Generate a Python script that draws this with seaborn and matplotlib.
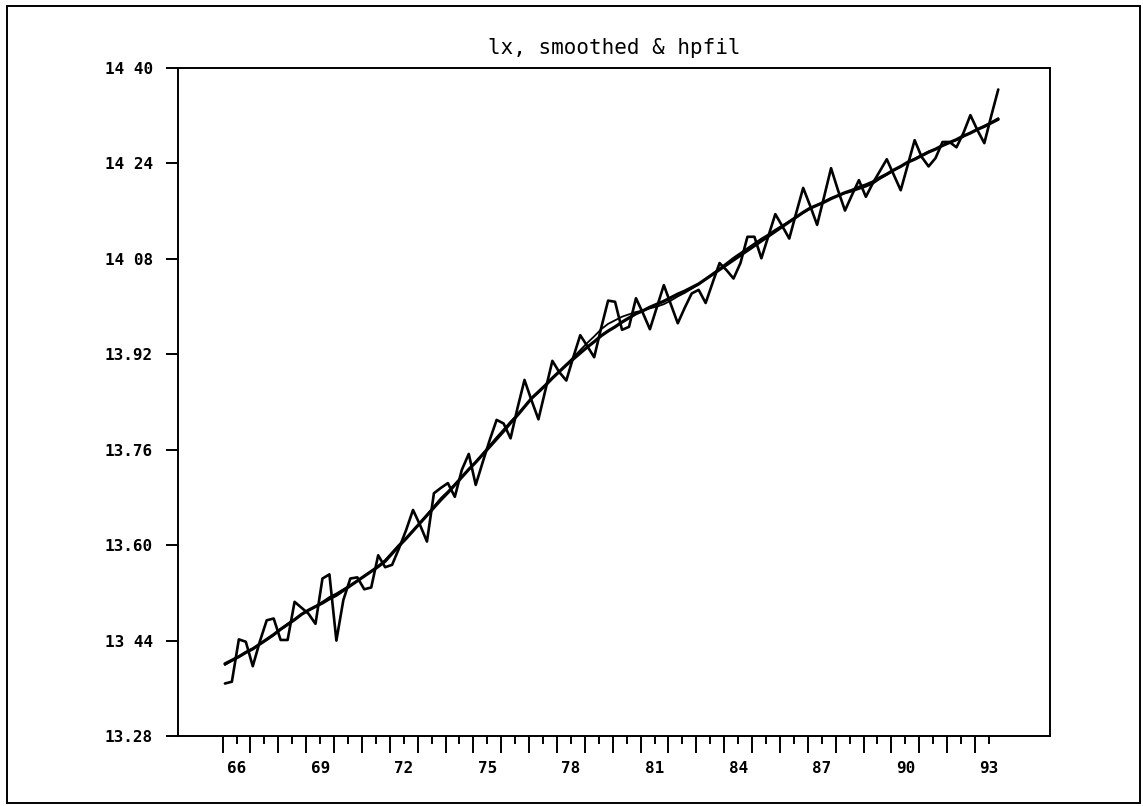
import numpy as np
import pandas as pd
import matplotlib
matplotlib.use("Agg")
import matplotlib.pyplot as plt
from matplotlib.patches import Rectangle
import seaborn as sns

# ---- data (quarterly, 1966Q1 .. 1993Q4) ----
start_year = 1966
n_quarters = 112

lx = [13.368, 13.371, 13.442, 13.438, 13.397, 13.438, 13.474, 13.477,
      13.441, 13.441, 13.505, 13.495, 13.485, 13.468, 13.544, 13.551,
      13.440, 13.508, 13.544, 13.546, 13.526, 13.529, 13.583, 13.563,
      13.567, 13.595, 13.625, 13.659, 13.634, 13.606, 13.687, 13.696,
      13.704, 13.681, 13.726, 13.753, 13.701, 13.739, 13.776, 13.810,
      13.804, 13.779, 13.830, 13.877, 13.843, 13.811, 13.860, 13.909,
      13.890, 13.876, 13.915, 13.952, 13.934, 13.915, 13.964, 14.010,
      14.008, 13.961, 13.966, 14.014, 13.989, 13.962, 13.999, 14.036,
      14.004, 13.972, 13.998, 14.022, 14.028, 14.006, 14.040, 14.073,
      14.061, 14.047, 14.073, 14.117, 14.117, 14.081, 14.118, 14.155,
      14.135, 14.114, 14.157, 14.199, 14.169, 14.137, 14.184, 14.232,
      14.195, 14.161, 14.187, 14.212, 14.184, 14.207, 14.227, 14.247,
      14.221, 14.195, 14.237, 14.279, 14.251, 14.235, 14.249, 14.276,
      14.276, 14.267, 14.291, 14.321, 14.296, 14.274, 14.320, 14.364]

smoothed = [13.399, 13.406, 13.413, 13.421, 13.427, 13.434, 13.441, 13.449,
            13.459, 13.468, 13.476, 13.484, 13.491, 13.497, 13.505, 13.513,
            13.519, 13.526, 13.533, 13.540, 13.548, 13.556, 13.565, 13.575,
            13.588, 13.601, 13.612, 13.624, 13.637, 13.651, 13.665, 13.679,
            13.690, 13.702, 13.714, 13.727, 13.739, 13.753, 13.767, 13.781,
            13.794, 13.807, 13.819, 13.832, 13.846, 13.856, 13.867, 13.880,
            13.891, 13.903, 13.915, 13.927, 13.939, 13.950, 13.962, 13.971,
            13.977, 13.983, 13.987, 13.991, 13.993, 13.997, 14.000, 14.004,
            14.010, 14.017, 14.023, 14.030, 14.037, 14.046, 14.055, 14.064,
            14.073, 14.082, 14.090, 14.098, 14.106, 14.114, 14.121, 14.129,
            14.136, 14.143, 14.150, 14.157, 14.164, 14.170, 14.176, 14.182,
            14.186, 14.190, 14.193, 14.197, 14.201, 14.206, 14.214, 14.221,
            14.228, 14.235, 14.242, 14.248, 14.254, 14.260, 14.264, 14.270,
            14.275, 14.279, 14.285, 14.291, 14.297, 14.303, 14.309, 14.316]

hpfil = [13.401, 13.407, 13.413, 13.420, 13.426, 13.434, 13.442, 13.450,
         13.459, 13.467, 13.475, 13.484, 13.491, 13.497, 13.503, 13.510,
         13.516, 13.524, 13.532, 13.540, 13.548, 13.556, 13.564, 13.573,
         13.586, 13.599, 13.611, 13.624, 13.637, 13.650, 13.663, 13.676,
         13.688, 13.701, 13.714, 13.727, 13.739, 13.752, 13.765, 13.778,
         13.791, 13.805, 13.818, 13.832, 13.846, 13.857, 13.868, 13.880,
         13.891, 13.902, 13.912, 13.922, 13.932, 13.941, 13.951, 13.959,
         13.966, 13.974, 13.981, 13.988, 13.993, 13.999, 14.004, 14.009,
         14.015, 14.021, 14.026, 14.032, 14.038, 14.046, 14.054, 14.062,
         14.070, 14.078, 14.086, 14.094, 14.102, 14.110, 14.118, 14.126,
         14.134, 14.142, 14.150, 14.158, 14.165, 14.170, 14.175, 14.181,
         14.186, 14.191, 14.195, 14.200, 14.204, 14.209, 14.216, 14.222,
         14.229, 14.235, 14.242, 14.247, 14.253, 14.259, 14.264, 14.270,
         14.275, 14.280, 14.286, 14.291, 14.297, 14.302, 14.308, 14.314]

y_ticks = [13.28, 13.44, 13.60, 13.76, 13.92, 14.08, 14.24, 14.40]
y_tick_labels = ["13.28", "13 44", "13.60", "13.76", "13.92", "14 08", "14 24", "14 40"]
x_label_years = [1966, 1969, 1972, 1975, 1978, 1981, 1984, 1987, 1990, 1993]
x_labels = ["66", "69", "72", "75", "78", "81", "84", "87", "90", "93"]
title = "lx, smoothed & hpfil"

# ---- build frame ----
q = np.arange(n_quarters)
t = start_year + q / 4.0 + 1.0 / 12.0   # middle month of each quarter
df = pd.DataFrame({"t": t, "lx": lx, "smoothed": smoothed, "hpfil": hpfil})

sns.set_theme(style="white")
plt.rcParams["font.family"] = ["DejaVu Sans"]
plt.rcParams["text.color"] = "black"
plt.rcParams["xtick.color"] = "black"
plt.rcParams["ytick.color"] = "black"

W, H = 1143, 806
fig = plt.figure(figsize=(W / 100, H / 100), dpi=100)
ax = fig.add_axes([178 / W, (H - 736) / H, (1050 - 178) / W, (736 - 68) / H])

sns.lineplot(data=df, x="t", y="lx", ax=ax, color="black", linewidth=1.9)
sns.lineplot(data=df, x="t", y="smoothed", ax=ax, color="black", linewidth=1.3)
sns.lineplot(data=df, x="t", y="hpfil", ax=ax, color="black", linewidth=2.3)

ax.set_xlim(1964.40, 1995.69)
ax.set_ylim(13.28, 14.40)
ax.set_xlabel("")
ax.set_ylabel("")

for s in ax.spines.values():
    s.set_visible(True)
    s.set_color("black")
    s.set_linewidth(1.4)

# y ticks
ax.set_yticks(y_ticks)
ax.set_yticklabels(y_tick_labels, family="DejaVu Sans Mono", fontweight="bold",
                   fontsize=11.5, color="black")
ax.tick_params(axis="y", which="major", direction="out", length=9, width=1.4,
               pad=9, color="black", left=True)

# x ticks: long at year starts, short at mid-years, labels centred in year
years = np.arange(1966, 1994)
ax.set_xticks(years)
ax.set_xticklabels([""] * len(years))
halves = years + 0.5
half_labels = [x_labels[x_label_years.index(y)] if y in x_label_years else "" for y in years]
ax.set_xticks(halves, minor=True)
ax.set_xticklabels(half_labels, minor=True, family="DejaVu Sans Mono",
                   fontweight="bold", fontsize=11.5, color="black")
ax.tick_params(axis="x", which="major", direction="out", length=12, width=1.4,
               color="black", bottom=True, pad=6)
ax.tick_params(axis="x", which="minor", direction="out", length=6, width=1.4,
               color="black", bottom=True, pad=12)

ax.set_title(title, family="DejaVu Sans Mono", fontsize=15, pad=10, color="black")

# outer frame around the whole figure
fig.patches.append(Rectangle((7 / W, 3 / H), (1140 - 7) / W, (803 - 6) / H,
                             transform=fig.transFigure, fill=False,
                             edgecolor="black", linewidth=1.4))

fig.savefig("out.png", dpi=100, facecolor="white")
